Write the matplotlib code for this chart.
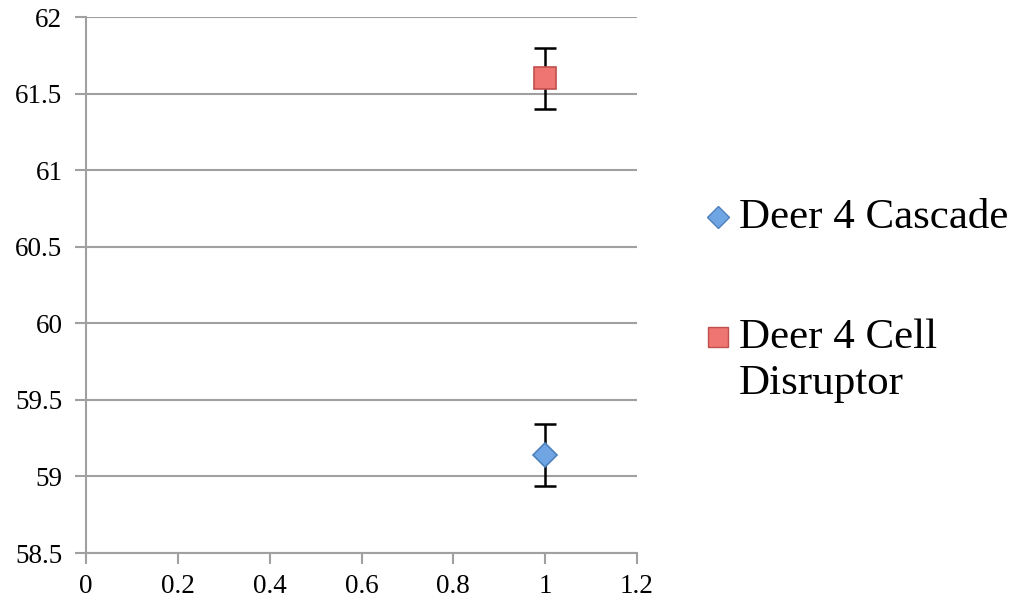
import matplotlib
matplotlib.use("Agg")
import matplotlib.pyplot as plt
from matplotlib.lines import Line2D
from matplotlib.ticker import FuncFormatter

series_names = ["Deer 4 Cascade", "Deer 4 Cell\nDisruptor"]
x_values = [1.0, 1.0]
y_values = [59.14, 61.60]
y_errors = [0.2, 0.2]
markers = ["D", "s"]
face_colors = ["#6FA5E3", "#EE7571"]
edge_colors = ["#4F81BD", "#C0504D"]
marker_sizes = [12.5, 16]

x_ticks = [0, 0.2, 0.4, 0.6, 0.8, 1.0, 1.2]
y_ticks = [58.5, 59, 59.5, 60, 60.5, 61, 61.5, 62]

plt.rcParams['font.family'] = ['Liberation Serif', 'DejaVu Serif']

fig = plt.figure(figsize=(10.23, 6.03), dpi=100)
ax = fig.add_axes([0.0841, 0.0829, 0.5386, 0.8889])

for x, y, e, m, fc, ec, ms in zip(x_values, y_values, y_errors, markers,
                                   face_colors, edge_colors, marker_sizes):
    ax.errorbar([x], [y], yerr=[e], fmt='none', ecolor='black', elinewidth=1.8,
                capsize=8, capthick=1.8, zorder=3)
    ax.plot([x], [y], marker=m, markersize=ms, markerfacecolor=fc,
            markeredgecolor=ec, markeredgewidth=1.2, linestyle='none', zorder=4)

ax.set_xlim(0, 1.2)
ax.set_ylim(58.5, 62)
ax.set_xticks(x_ticks)
ax.set_yticks(y_ticks)
fmt = FuncFormatter(lambda v, p: f"{v:g}")
ax.xaxis.set_major_formatter(fmt)
ax.yaxis.set_major_formatter(fmt)

ax.yaxis.grid(True, color="#A0A0A0", linewidth=1.5)
ax.set_axisbelow(True)
for s in ["top", "right"]:
    ax.spines[s].set_visible(False)
for s in ["left", "bottom"]:
    ax.spines[s].set_color("#A0A0A0")
    ax.spines[s].set_linewidth(1.5)
ax.tick_params(axis='both', colors="#A0A0A0", width=1.5, length=8,
               labelsize=19.5, labelcolor='black')
ax.tick_params(axis='x', pad=7)
ax.tick_params(axis='y', pad=9)

# legend (manual)
leg_y = [0.640, 0.441]
leg_sizes = [11.5, 14]
for name, m, fc, ec, ly, ls in zip(series_names, markers, face_colors, edge_colors,
                                    leg_y, leg_sizes):
    fig.add_artist(Line2D([0.702], [ly], marker=m, markersize=ls,
                          markerfacecolor=fc, markeredgecolor=ec, markeredgewidth=1,
                          linestyle='none', transform=fig.transFigure))
    fig.text(0.722, ly + 0.030, name, fontsize=31, va='top', ha='left',
             linespacing=1.25)

fig.savefig("out.png", dpi=100)
